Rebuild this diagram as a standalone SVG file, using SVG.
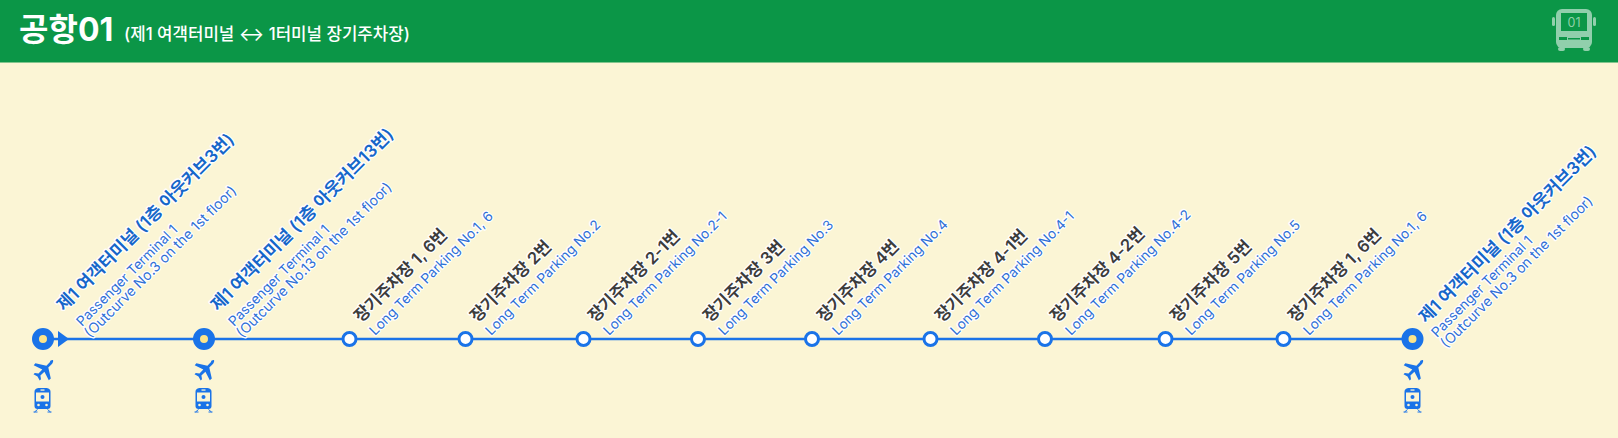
<svg xmlns="http://www.w3.org/2000/svg" width="1618" height="438" viewBox="0 0 1618 438">
<style>
text{font-family:Inter,"Noto Sans CJK KR","Noto Sans",sans-serif}
.k{font-size:16.700px;font-weight:600;paint-order:stroke;stroke:#fff;stroke-width:2.500px;stroke-linejoin:round}
.t{font-size:17.300px}
.e{font-size:13.600px;fill:#2f6fd6;paint-order:stroke;stroke:#fff;stroke-width:2.500px;stroke-linejoin:round}
.o{font-size:14px}
.bk{fill:#1666c9}.dk{fill:#3c3c3c}
.stop{fill:#fff;stroke:#1a73e8;stroke-width:3px}
.term{fill:#fde58a;stroke:#1a73e8;stroke-width:7px}
.ic{fill:#1a73e8}
</style>
<defs>
<g id="plane"><path class="ic" d="M19.500 0c1.200 0 .7 2.500-.6 4l-3.600 3.600 2.500 11-2 1.700-4.400-8.600-4 3.800.6 3.700-1.300 1.300-2.200-4-4-2.200 1.300-1.300 3.700.6 3.800-4-8.600-4.400 1.700-2 11 2.500 3.600-3.600C16.800.7 18.300 0 19.500 0z"/></g>
<g id="train"><path class="ic" d="M5 0h6c3 0 5 1 5 4v14c0 2-1 3-3 3H3c-2 0-3-1-3-3V4c0-3 2-4 5-4z"/><rect x="1.500" y="4.500" width="13" height="9" fill="#fbf5d5"/><rect x="6" y="1.400" width="4" height="1.300" fill="#fbf5d5"/><circle cx="4" cy="17" r="1.300" fill="#fbf5d5"/><circle cx="12" cy="17" r="1.300" fill="#fbf5d5"/><circle cx="8" cy="9" r="2" class="ic"/><path d="M3 21.500L0 24M13 21.500L16 24M-1 24H3M13 24H17" stroke="#1a73e8" stroke-width="1" fill="none"/></g>
</defs>
<rect width="1618" height="438" fill="#fbf5d5"/>
<g id="header">
<rect width="1618" height="62.500" fill="#0b9647"/>
<text x="19" y="41" font-size="32" font-weight="700" fill="#fff">공항01</text>
<text x="124" y="40" font-size="16.800" font-weight="500" fill="#fff">(제1 여객터미널 <tspan font-size="19" font-weight="400" dy="1">↔</tspan><tspan dy="-1"> 1터미널 장기주차장)</tspan></text>
</g>
<g id="bus-icon" opacity="0.55" fill="#fff">
<rect x="1556" y="9" width="36" height="39" rx="6"/>
<rect x="1552" y="17" width="3" height="9" rx="1.500"/><rect x="1593" y="17" width="3" height="9" rx="1.500"/>
<rect x="1558" y="47" width="7" height="4" rx="2"/><rect x="1583" y="47" width="7" height="4" rx="2"/>
</g>
<g id="bus-window"><rect x="1561" y="13" width="26" height="18" fill="#0b9647"/><rect x="1559" y="37" width="8" height="3" fill="#0b9647"/><rect x="1581" y="37" width="8" height="3" fill="#0b9647"/><rect x="1568" y="38" width="12" height="1.500" fill="#0b9647"/><text x="1574" y="27" font-size="12.500" fill="#8fd0a8" text-anchor="middle">01</text></g>
<g id="connectors">
<line x1="43" y1="339" x2="1413" y2="339" stroke="#1a73e8" stroke-width="2.500"/>
<path d="M58 331L69 339L58 347Z" fill="#1a73e8"/>
</g>
<g id="n1"><circle class="term" cx="43" cy="339" r="7.500"/>
<g transform="translate(64 312) rotate(-45)"><text class="k t bk">제1 여객터미널 (1층 아웃커브3번)</text></g>
<g transform="translate(82 327) rotate(-45)"><text class="e">Passenger Terminal 1</text><text class="e o" x="-2.500" y="14">(Outcurve No.3 on the 1st floor)</text></g>
<use href="#plane" x="33" y="360"/><use href="#train" x="34.500" y="388"/></g>
<g id="n2"><circle class="term" cx="204" cy="339" r="7.500"/>
<g transform="translate(218 312) rotate(-45)"><text class="k t bk">제1 여객터미널 (1층 아웃커브13번)</text></g>
<g transform="translate(234 327) rotate(-45)"><text class="e">Passenger Terminal 1</text><text class="e o" x="-2.500" y="14">(Outcurve No.13 on the 1st floor)</text></g>
<use href="#plane" x="194" y="360"/><use href="#train" x="195.500" y="388"/></g>
<g id="n3"><circle class="stop" cx="349.500" cy="339" r="6.500"/><g transform="translate(361 323) rotate(-45)"><text class="k dk">장기주차장 1, 6번</text></g><g transform="translate(375 336) rotate(-45)"><text class="e">Long Term Parking No.1, 6</text></g></g>
<g id="n4"><circle class="stop" cx="465.500" cy="339" r="6.500"/><g transform="translate(477 323) rotate(-45)"><text class="k dk">장기주차장 2번</text></g><g transform="translate(491 336) rotate(-45)"><text class="e">Long Term Parking No.2</text></g></g>
<g id="n5"><circle class="stop" cx="583.500" cy="339" r="6.500"/><g transform="translate(595 323) rotate(-45)"><text class="k dk">장기주차장 2-1번</text></g><g transform="translate(609 336) rotate(-45)"><text class="e">Long Term Parking No.2-1</text></g></g>
<g id="n6"><circle class="stop" cx="698" cy="339" r="6.500"/><g transform="translate(710 323) rotate(-45)"><text class="k dk">장기주차장 3번</text></g><g transform="translate(724 336) rotate(-45)"><text class="e">Long Term Parking No.3</text></g></g>
<g id="n7"><circle class="stop" cx="812" cy="339" r="6.500"/><g transform="translate(824 323) rotate(-45)"><text class="k dk">장기주차장 4번</text></g><g transform="translate(838 336) rotate(-45)"><text class="e">Long Term Parking No.4</text></g></g>
<g id="n8"><circle class="stop" cx="930.500" cy="339" r="6.500"/><g transform="translate(942 323) rotate(-45)"><text class="k dk">장기주차장 4-1번</text></g><g transform="translate(956 336) rotate(-45)"><text class="e">Long Term Parking No.4-1</text></g></g>
<g id="n9"><circle class="stop" cx="1045" cy="339" r="6.500"/><g transform="translate(1057 323) rotate(-45)"><text class="k dk">장기주차장 4-2번</text></g><g transform="translate(1071 336) rotate(-45)"><text class="e">Long Term Parking No.4-2</text></g></g>
<g id="n10"><circle class="stop" cx="1165.500" cy="339" r="6.500"/><g transform="translate(1177 323) rotate(-45)"><text class="k dk">장기주차장 5번</text></g><g transform="translate(1191 336) rotate(-45)"><text class="e">Long Term Parking No.5</text></g></g>
<g id="n11"><circle class="stop" cx="1283.500" cy="339" r="6.500"/><g transform="translate(1295 323) rotate(-45)"><text class="k dk">장기주차장 1, 6번</text></g><g transform="translate(1309 336) rotate(-45)"><text class="e">Long Term Parking No.1, 6</text></g></g>
<g id="n12"><circle class="term" cx="1412.500" cy="339" r="7.500"/>
<g transform="translate(1426 324) rotate(-45)"><text class="k t bk">제1 여객터미널 (1층 아웃커브3번)</text></g>
<g transform="translate(1437 338) rotate(-45)"><text class="e">Passenger Terminal 1</text><text class="e o" x="-1" y="14.500">(Outcurve No.3 on the 1st floor)</text></g>
<use href="#plane" x="1403" y="360"/><use href="#train" x="1404.500" y="388"/></g>
</svg>
